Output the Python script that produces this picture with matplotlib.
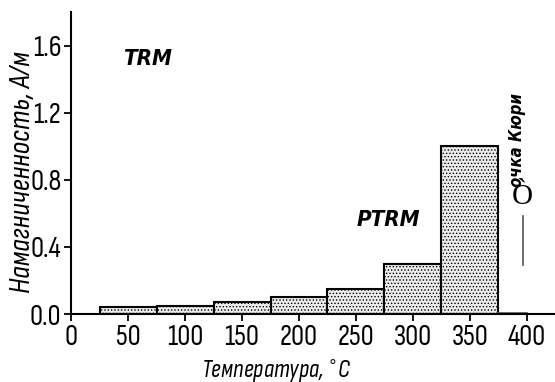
import matplotlib
matplotlib.use('Agg')
import matplotlib.pyplot as plt

temps = [50, 100, 150, 200, 250, 300, 350]
magn = [0.04, 0.05, 0.07, 0.10, 0.15, 0.30, 1.00]
x_ticks = [0, 50, 100, 150, 200, 250, 300, 350, 400]
y_ticks = [0.0, 0.4, 0.8, 1.2, 1.6]

narrow = ['Sofia Sans Condensed', 'DejaVu Sans']
plt.rcParams['font.family'] = narrow
plt.rcParams['font.stretch'] = 'condensed'
plt.rcParams['hatch.color'] = '#9a9a9a'
plt.rcParams['hatch.linewidth'] = 0.6

fig = plt.figure(figsize = (5.55, 3.82), dpi = 100)
ax = fig.add_axes([0.128, 0.178, 0.872, 0.79])

ax.bar(temps, magn, width = 50, facecolor = '#ececec', edgecolor = 'black',
	linewidth = 1.5, hatch = '.....')
# tail above 375 degrees, barely above zero
ax.plot([375, 400], [0.004, 0.004], color = '#555555', lw = 1.2)

ax.set_xlim(0, 424.6)
ax.set_ylim(0, 1.80)
ax.set_xticks(x_ticks)
ax.set_yticks(y_ticks)
ax.set_xticklabels([str(t) for t in x_ticks])
ax.set_yticklabels(['%.1f' % t for t in y_ticks])
ax.tick_params(direction = 'out', length = 5, width = 1.3, labelsize = 21, pad = 2)
for s in ['top', 'right']:
	ax.spines[s].set_visible(False)
for s in ['left', 'bottom']:
	ax.spines[s].set_linewidth(1.5)

ax.set_xlabel('Температура, $^{\\circ}$C', fontsize = 18, style = 'italic')
ax.xaxis.set_label_coords(0.425, -0.145)
ax.set_ylabel('Намагниченность, А/м', fontsize = 22, style = 'italic')
ax.yaxis.set_label_coords(-0.072, 0.47)

bold = ['DejaVu Sans']
ax.text(67, 1.52, 'TRM', fontsize = 16, family = bold, weight = 'bold', style = 'italic',
	ha = 'center', va = 'center')
ax.text(278, 0.56, 'PTRM', fontsize = 16, family = bold, weight = 'bold', style = 'italic',
	ha = 'center', va = 'center')
ax.text(391, 1.04, 'очка Кюри', fontsize = 12, family = bold, weight = 'bold', style = 'italic',
	rotation = 90, ha = 'center', va = 'center')
ax.text(396, 0.70, 'Ò', fontsize = 21, family = ['Liberation Serif', 'DejaVu Serif'],
	ha = 'center', va = 'center')
ax.plot([396.5, 396.5], [0.29, 0.585], color = '#555555', lw = 1.2, clip_on = False)

plt.savefig('out.png', dpi = 100)
